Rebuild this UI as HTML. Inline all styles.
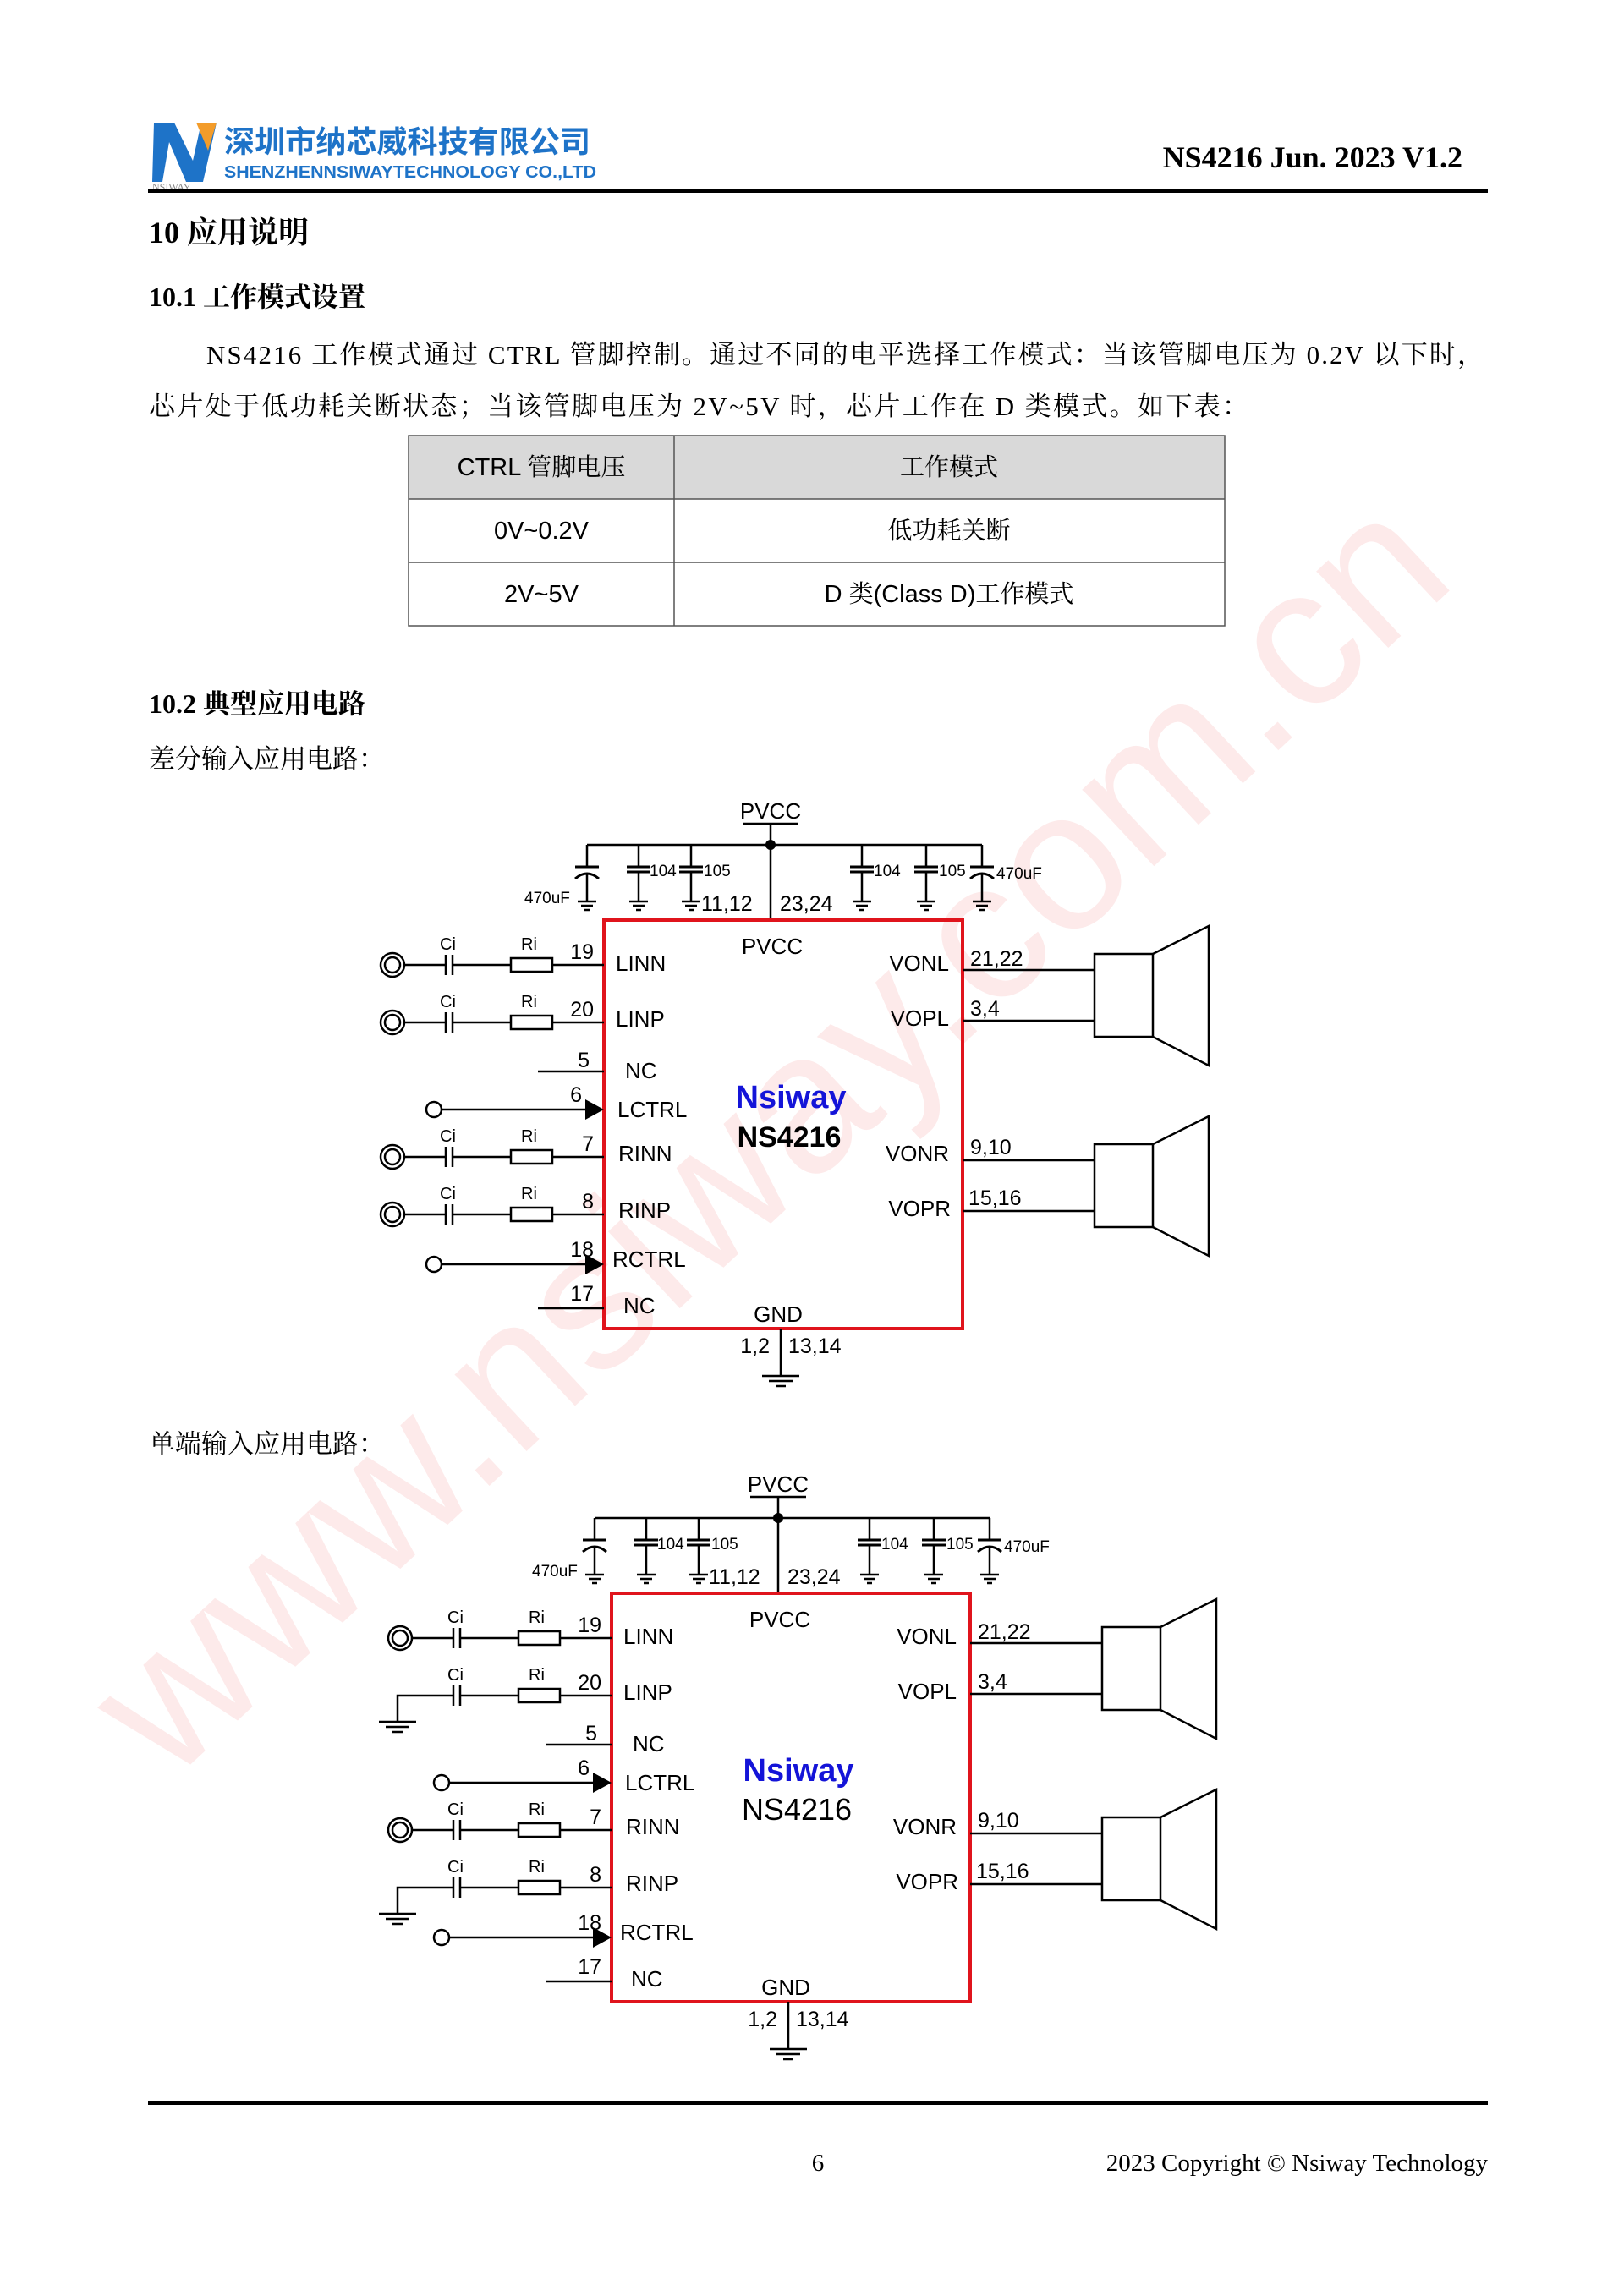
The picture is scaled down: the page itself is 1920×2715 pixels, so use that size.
<!DOCTYPE html>
<html><head><meta charset="utf-8">
<style>
html,body{margin:0;padding:0;background:#fff;}
svg{display:block;}
.s{font-family:"Liberation Serif","Noto Serif CJK SC",serif;}
.a{font-family:"Liberation Sans","Noto Sans CJK SC",sans-serif;}
</style></head><body>
<svg width="1920" height="2715" viewBox="0 0 1920 2715" xmlns="http://www.w3.org/2000/svg">
<defs>
<g id="gnd"><line x1="-11" y1="0" x2="11" y2="0" stroke="#000" stroke-width="2.5"/><line x1="-7" y1="5" x2="7" y2="5" stroke="#000" stroke-width="2.5"/><line x1="-3" y1="10" x2="3" y2="10" stroke="#000" stroke-width="2.5"/></g>
<g id="gndw"><line x1="-22" y1="0" x2="22" y2="0" stroke="#000" stroke-width="2.5"/><line x1="-14" y1="6" x2="14" y2="6" stroke="#000" stroke-width="2.5"/><line x1="-6" y1="12" x2="6" y2="12" stroke="#000" stroke-width="2.5"/></g>
<g id="cap"><line x1="0" y1="999" x2="0" y2="1025" stroke="#000" stroke-width="2.5"/><line x1="-14" y1="1025" x2="14" y2="1025" stroke="#000" stroke-width="3"/><line x1="-14" y1="1031" x2="14" y2="1031" stroke="#000" stroke-width="3"/><line x1="0" y1="1031" x2="0" y2="1066" stroke="#000" stroke-width="2.5"/><use href="#gnd" x="0" y="1066"/></g>
<g id="ecap"><line x1="0" y1="999" x2="0" y2="1025" stroke="#000" stroke-width="2.5"/><line x1="-14" y1="1025" x2="14" y2="1025" stroke="#000" stroke-width="3"/><path d="M-14 1039 Q0 1027 14 1039" fill="none" stroke="#000" stroke-width="3"/><line x1="0" y1="1033" x2="0" y2="1066" stroke="#000" stroke-width="2.5"/><use href="#gnd" x="0" y="1066"/></g>
<g id="spk" fill="#fff" stroke="#000" stroke-width="2.5"><rect x="1294" y="0" width="69" height="98"/><path d="M1363 0 L1429 -33 L1429 132 L1363 98" fill="none"/></g>
</defs>

<!-- watermark -->
<text class="a" x="0" y="0" font-size="235" fill="#f03c3c" fill-opacity="0.11" transform="translate(200,2110) rotate(-43)">www.nsiway.com.cn</text>

<!-- header -->
<polygon points="182,145 206,145 228,190 238,145 256,145 240,215 220,215 200,168 192,215 180,215" fill="#1e73c8"/>
<polygon points="232,145 256,145 246,178" fill="#f39c2a"/>
<text class="s" x="180" y="225" font-size="12" fill="#888">NSIWAY</text>
<text class="a" x="265" y="180" font-size="36" font-weight="bold" fill="#1e73c8" textLength="433" lengthAdjust="spacingAndGlyphs">深圳市纳芯威科技有限公司</text>
<text class="a" x="265" y="210" font-size="20" font-weight="bold" fill="#1e73c8" textLength="440" lengthAdjust="spacingAndGlyphs">SHENZHENNSIWAYTECHNOLOGY CO.,LTD</text>
<text class="s" x="1729" y="198" font-size="36" font-weight="bold" text-anchor="end">NS4216 Jun. 2023 V1.2</text>
<rect x="175" y="224" width="1584" height="4" fill="#000"/>

<text class="s" x="176" y="287" font-size="36" font-weight="bold">10  应用说明</text>
<text class="s" x="176" y="362" font-size="32" font-weight="bold">10.1  工作模式设置</text>
<text class="s" x="244" y="430" font-size="31" textLength="1510" lengthAdjust="spacing">NS4216 工作模式通过 CTRL 管脚控制。通过不同的电平选择工作模式：当该管脚电压为 0.2V 以下时，</text>
<text class="s" x="176" y="491" font-size="31" textLength="1300" lengthAdjust="spacing">芯片处于低功耗关断状态；当该管脚电压为 2V~5V 时，芯片工作在 D 类模式。如下表：</text>

<!-- table -->
<rect x="483" y="515" width="965" height="75" fill="#d9d9d9"/>
<g stroke="#555" stroke-width="1.5" fill="none"><rect x="483" y="515" width="965" height="225"/><line x1="483" y1="590" x2="1448" y2="590"/><line x1="483" y1="665" x2="1448" y2="665"/><line x1="797" y1="515" x2="797" y2="740"/></g>
<g class="a" font-size="29" text-anchor="middle">
<text x="640" y="562" font-family="Liberation Sans,Noto Serif CJK SC,sans-serif">CTRL 管脚电压</text>
<text x="1122" y="562" font-family="Liberation Sans,Noto Serif CJK SC,sans-serif">工作模式</text>
<text x="640" y="637">0V~0.2V</text>
<text x="1122" y="637" font-family="Liberation Sans,Noto Serif CJK SC,sans-serif">低功耗关断</text>
<text x="640" y="712">2V~5V</text>
<text x="1122" y="712" font-family="Liberation Sans,Noto Serif CJK SC,sans-serif">D 类(Class D)工作模式</text>
</g>

<text class="s" x="176" y="843" font-size="32" font-weight="bold">10.2  典型应用电路</text>
<text class="s" x="176" y="908" font-size="31">差分输入应用电路：</text>
<text class="s" x="176" y="1718" font-size="31">单端输入应用电路：</text>

<!-- DIAGRAM common -->
<g id="dia" class="a">
<text x="911" y="968" font-size="26" text-anchor="middle">PVCC</text>
<line x1="878" y1="974" x2="944" y2="974" stroke="#000" stroke-width="2.5"/>
<line x1="911" y1="974" x2="911" y2="1088" stroke="#000" stroke-width="2.5"/>
<line x1="694" y1="999" x2="1161" y2="999" stroke="#000" stroke-width="2.5"/>
<circle cx="911" cy="999" r="6" fill="#000"/>
<use href="#ecap" x="694"/><use href="#cap" x="755"/><use href="#cap" x="817"/>
<use href="#cap" x="1019"/><use href="#cap" x="1095"/><use href="#ecap" x="1161"/>
<g font-size="19">
<text x="768" y="1036">104</text><text x="832" y="1036">105</text>
<text x="1033" y="1036">104</text><text x="1110" y="1036">105</text>
<text x="1178" y="1039">470uF</text><text x="620" y="1068">470uF</text>
</g>
<g font-size="25"><text x="829" y="1077">11,12</text><text x="922" y="1077">23,24</text></g>

<rect x="714" y="1088" width="424" height="483" fill="none" stroke="#e0141c" stroke-width="4"/>
<text x="913" y="1128" font-size="26" text-anchor="middle">PVCC</text>
<text x="920" y="1563" font-size="26" text-anchor="middle">GND</text>
<text x="935" y="1310" font-size="38" font-weight="bold" fill="#1414d8" text-anchor="middle">Nsiway</text>

<g font-size="26">
<text x="728" y="1148">LINN</text><text x="728" y="1214">LINP</text>
<text x="739" y="1275">NC</text><text x="730" y="1321">LCTRL</text>
<text x="731" y="1373">RINN</text><text x="731" y="1440">RINP</text>
<text x="724" y="1498">RCTRL</text><text x="737" y="1553">NC</text>
<g text-anchor="end"><text x="1122" y="1148">VONL</text><text x="1122" y="1213">VOPL</text><text x="1122" y="1373">VONR</text><text x="1124" y="1438">VOPR</text></g>
</g>
<g font-size="25">
<g text-anchor="end"><text x="702" y="1134">19</text><text x="702" y="1202">20</text><text x="697" y="1262">5</text><text x="688" y="1303">6</text><text x="702" y="1361">7</text><text x="702" y="1429">8</text><text x="702" y="1486">18</text><text x="702" y="1538">17</text><text x="910" y="1600">1,2</text></g>
<text x="1147" y="1142">21,22</text><text x="1147" y="1201">3,4</text><text x="1147" y="1365">9,10</text><text x="1145" y="1425">15,16</text><text x="932" y="1600">13,14</text>
</g>
<g stroke="#000" stroke-width="2.5" fill="none">
<circle cx="464" cy="1141" r="14"/><circle cx="464" cy="1141" r="9"/>
<line x1="478" y1="1141" x2="527" y2="1141"/><line x1="527" y1="1129" x2="527" y2="1153"/><line x1="535" y1="1129" x2="535" y2="1153"/>
<line x1="535" y1="1141" x2="604" y2="1141"/><rect x="604" y="1133" width="49" height="16"/><line x1="653" y1="1141" x2="714" y2="1141"/>
<line x1="527" y1="1197" x2="527" y2="1221"/><line x1="535" y1="1197" x2="535" y2="1221"/>
<line x1="535" y1="1209" x2="604" y2="1209"/><rect x="604" y="1201" width="49" height="16"/><line x1="653" y1="1209" x2="714" y2="1209"/>
<line x1="636" y1="1267" x2="714" y2="1267"/>
<circle cx="513" cy="1312" r="9"/><line x1="522" y1="1312" x2="694" y2="1312"/>
<circle cx="464" cy="1368" r="14"/><circle cx="464" cy="1368" r="9"/>
<line x1="478" y1="1368" x2="527" y2="1368"/><line x1="527" y1="1356" x2="527" y2="1380"/><line x1="535" y1="1356" x2="535" y2="1380"/>
<line x1="535" y1="1368" x2="604" y2="1368"/><rect x="604" y="1360" width="49" height="16"/><line x1="653" y1="1368" x2="714" y2="1368"/>
<line x1="527" y1="1424" x2="527" y2="1448"/><line x1="535" y1="1424" x2="535" y2="1448"/>
<line x1="535" y1="1436" x2="604" y2="1436"/><rect x="604" y="1428" width="49" height="16"/><line x1="653" y1="1436" x2="714" y2="1436"/>
<circle cx="513" cy="1495" r="9"/><line x1="522" y1="1495" x2="694" y2="1495"/>
<line x1="636" y1="1547" x2="714" y2="1547"/>
<line x1="1138" y1="1147" x2="1294" y2="1147"/><line x1="1138" y1="1207" x2="1294" y2="1207"/>
<line x1="1138" y1="1372" x2="1294" y2="1372"/><line x1="1138" y1="1432" x2="1294" y2="1432"/>
<line x1="923" y1="1571" x2="923" y2="1627"/>
</g>
<polygon points="692,1300 714,1312 692,1324" fill="#000"/>
<polygon points="692,1483 714,1495 692,1507" fill="#000"/>
<use href="#gndw" x="923" y="1627"/>
<use href="#spk" x="0" y="1128"/><use href="#spk" x="0" y="1353"/>
<g font-size="20"><text x="520" y="1123">Ci</text><text x="616" y="1123">Ri</text><text x="520" y="1191">Ci</text><text x="616" y="1191">Ri</text><text x="520" y="1350">Ci</text><text x="616" y="1350">Ri</text><text x="520" y="1418">Ci</text><text x="616" y="1418">Ri</text></g>
</g>

<!-- diagram 1 specifics -->
<g class="a">
<text x="933" y="1356" font-size="34" font-weight="bold" text-anchor="middle">NS4216</text>
<g stroke="#000" stroke-width="2.5" fill="none">
<circle cx="464" cy="1209" r="14"/><circle cx="464" cy="1209" r="9"/><line x1="478" y1="1209" x2="527" y2="1209"/>
<circle cx="464" cy="1436" r="14"/><circle cx="464" cy="1436" r="9"/><line x1="478" y1="1436" x2="527" y2="1436"/>
</g>
</g>

<!-- diagram 2 -->
<g transform="translate(9,796)">
<use href="#dia"/>
<text class="a" x="933" y="1356" font-size="36" text-anchor="middle">NS4216</text>
<g stroke="#000" stroke-width="2.5" fill="none">
<polyline points="527,1209 461,1209 461,1240"/>
<polyline points="527,1436 461,1436 461,1467"/>
</g>
<use href="#gndw" x="461" y="1240"/><use href="#gndw" x="461" y="1467"/>
</g>

<!-- footer -->
<rect x="175" y="2485" width="1584" height="4" fill="#000"/>
<text class="s" x="967" y="2567" font-size="29" text-anchor="middle">6</text>
<text class="s" x="1759" y="2567" font-size="29" text-anchor="end">2023 Copyright © Nsiway Technology</text>
</svg>
</body></html>
